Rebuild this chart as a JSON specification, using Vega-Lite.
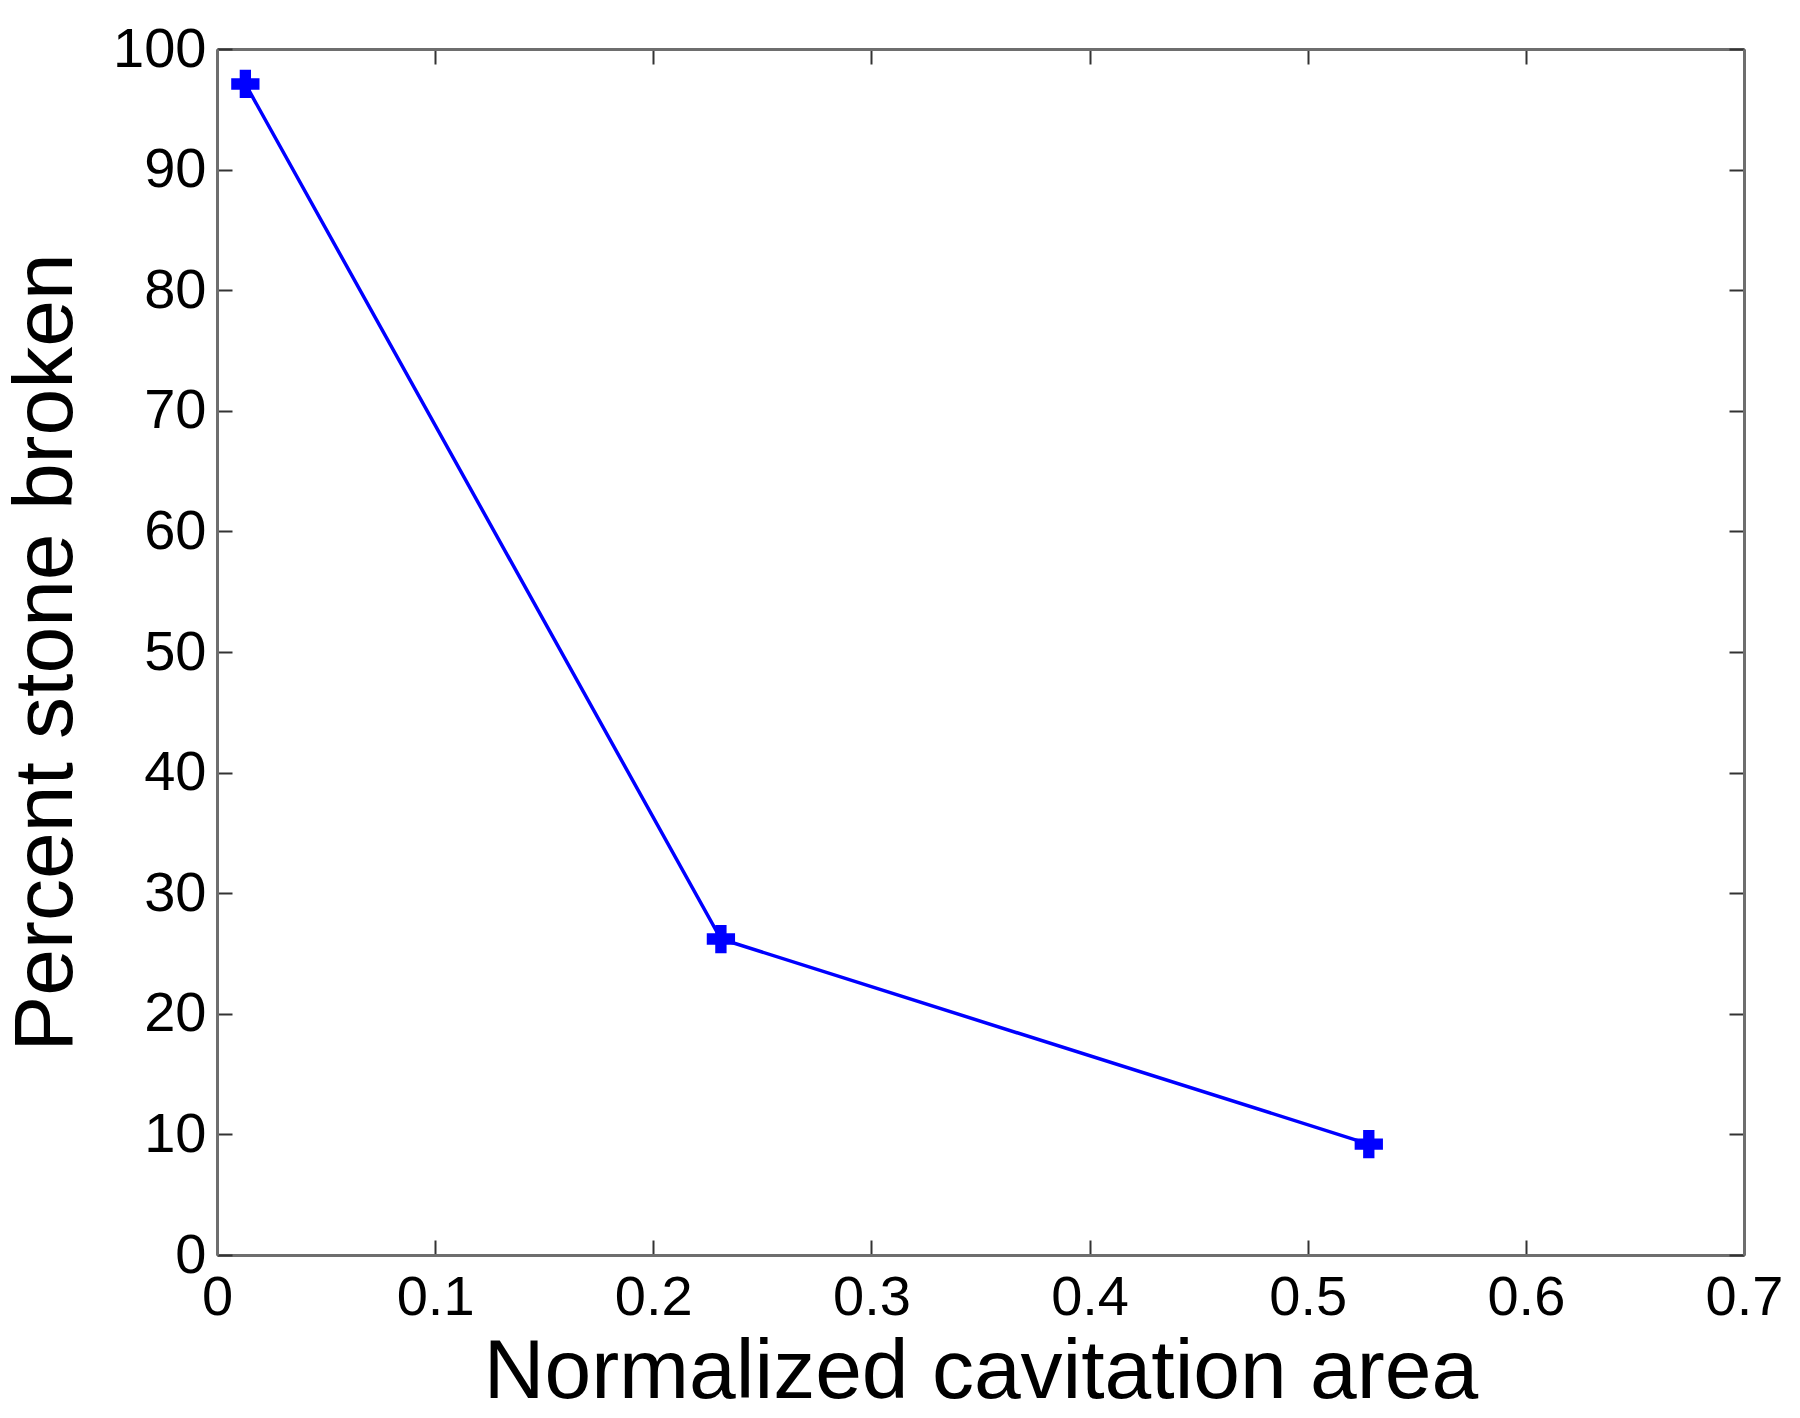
{
  "$schema": "https://vega.github.io/schema/vega-lite/v6.json",
  "width": 1527,
  "height": 1206,
  "autosize": {"type": "none"},
  "padding": {"left": 217, "top": 49, "right": 56, "bottom": 163},
  "background": "white",
  "config": {
    "view": {"stroke": null},
    "font": "Liberation Sans",
    "axis": {
      "grid": false,
      "domainColor": "#6e6e6e",
      "domainWidth": 3,
      "tickColor": "#333333",
      "tickWidth": 2,
      "tickSize": -15,
      "labelFont": "Liberation Sans",
      "labelFontSize": 56,
      "labelColor": "#000000",
      "titleFont": "Liberation Sans",
      "titleFontSize": 84,
      "titleFontWeight": "normal",
      "titleColor": "#000000"
    }
  },
  "data": {
    "values": [
      {"area": 0.013, "broken": 97.1},
      {"area": 0.231, "broken": 26.2},
      {"area": 0.528, "broken": 9.2}
    ]
  },
  "layer": [
    {
      "mark": {"type": "line", "color": "#0000ff", "strokeWidth": 3.5},
      "encoding": {
        "x": {
          "field": "area", "type": "quantitative",
          "scale": {"domain": [0, 0.7], "nice": false, "zero": false},
          "axis": {"orient": "bottom", "title": "Normalized cavitation area", "values": [0, 0.1, 0.2, 0.3, 0.4, 0.5, 0.6, 0.7], "format": "~g", "labelPadding": 30, "titlePadding": 6, "labelFlush": false, "labelOverlap": false}
        },
        "y": {
          "field": "broken", "type": "quantitative",
          "scale": {"domain": [0, 100], "nice": false, "zero": false},
          "axis": {"orient": "left", "title": "Percent stone broken", "values": [0, 10, 20, 30, 40, 50, 60, 70, 80, 90, 100], "labelPadding": 26, "titlePadding": 23, "labelFlush": false, "labelOverlap": false}
        }
      }
    },
    {
      "mark": {"type": "point", "shape": "cross", "filled": true, "color": "#0000ff", "size": 800, "opacity": 1},
      "encoding": {
        "x": {
          "field": "area", "type": "quantitative",
          "axis": {"orient": "top", "title": null, "labels": false, "values": [0, 0.1, 0.2, 0.3, 0.4, 0.5, 0.6, 0.7]}
        },
        "y": {
          "field": "broken", "type": "quantitative",
          "axis": {"orient": "right", "title": null, "labels": false, "values": [0, 10, 20, 30, 40, 50, 60, 70, 80, 90, 100]}
        }
      }
    }
  ],
  "resolve": {"axis": {"x": "independent", "y": "independent"}}
}
